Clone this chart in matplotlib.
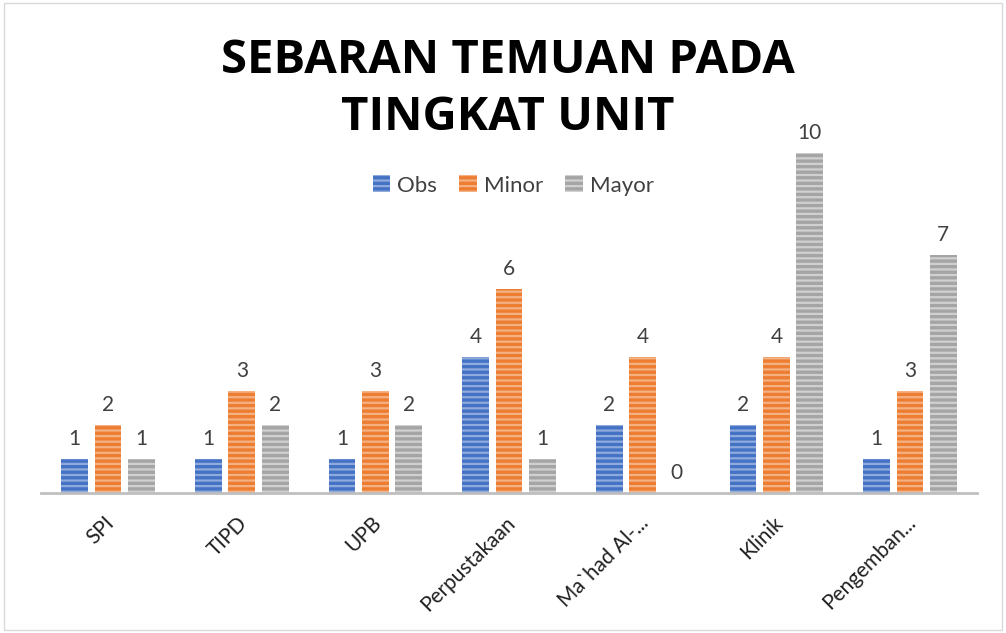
import numpy as np
import matplotlib.pyplot as plt
import matplotlib.transforms as mtransforms
from matplotlib.patches import Rectangle

units = ["SPI", "TIPD", "UPB", "Perpustakaan", "Ma`had Al-...", "Klinik", "Pengemban..."]
obs = [1, 1, 1, 4, 2, 2, 1]
minor = [2, 3, 3, 6, 4, 4, 3]
mayor = [1, 2, 2, 1, 0, 10, 7]
series = ["Obs", "Minor", "Mayor"]
colors = ["#4472C4", "#ED7D31", "#A5A5A5"]
stripes = ["#8FAADC", "#F4B183", "#D0D0D0"]

plt.rcParams["font.family"] = ["Lato", "DejaVu Sans"]
plt.rcParams["hatch.linewidth"] = 1.6

fig = plt.figure(figsize=(10.06, 6.33), dpi=100)
ax = fig.add_axes([0.041, 0.221, 0.930, 0.558])

x = np.arange(len(units))
w = 0.2
step = 0.25
for i, (vals, name) in enumerate(zip([obs, minor, mayor], series)):
    bars = ax.bar(x + (i - 1) * step, vals, w, color=colors[i], edgecolor=stripes[i],
                  linewidth=0, hatch="---", label=name)
    for b, v in zip(bars, vals):
        ax.text(b.get_x() + b.get_width() / 2, v + 0.58, str(v), ha="center", va="center",
                fontsize=15, color="#404040")

ax.set_xlim(-0.5, len(units) - 0.5)
ax.set_ylim(0, 10.38)
ax.set_yticks([])
ax.set_xticks(x)
ax.set_xticklabels(units, rotation=45, ha="right", va="center", rotation_mode="anchor",
                   fontsize=15, color="#202020")
ax.tick_params(axis="x", length=0, pad=19)
shift = mtransforms.ScaledTranslation(0.03, 0, fig.dpi_scale_trans)
for lbl in ax.get_xticklabels():
    lbl.set_transform(lbl.get_transform() + shift)
for s in ["top", "right", "left"]:
    ax.spines[s].set_visible(False)
ax.spines["bottom"].set_color("#BFBFBF")
ax.spines["bottom"].set_linewidth(2)

fig.text(0.505, 0.905, "SEBARAN TEMUAN PADA", ha="center", va="center", fontsize=34,
         fontweight="bold", family=["Open Sans", "DejaVu Sans"])
fig.text(0.505, 0.815, "TINGKAT UNIT", ha="center", va="center", fontsize=34,
         fontweight="bold", family=["Open Sans", "DejaVu Sans"])

fig.legend(loc="center", bbox_to_anchor=(0.51, 0.707), ncol=3, frameon=False, fontsize=16,
           handlelength=0.8, handleheight=0.8, handletextpad=0.3, columnspacing=1.0,
           labelcolor="#404040")

fig.patches.append(Rectangle((0.004, 0.004), 0.992, 0.992, transform=fig.transFigure,
                             fill=False, edgecolor="#D9D9D9", linewidth=1))

fig.savefig("out.png", dpi=100)
